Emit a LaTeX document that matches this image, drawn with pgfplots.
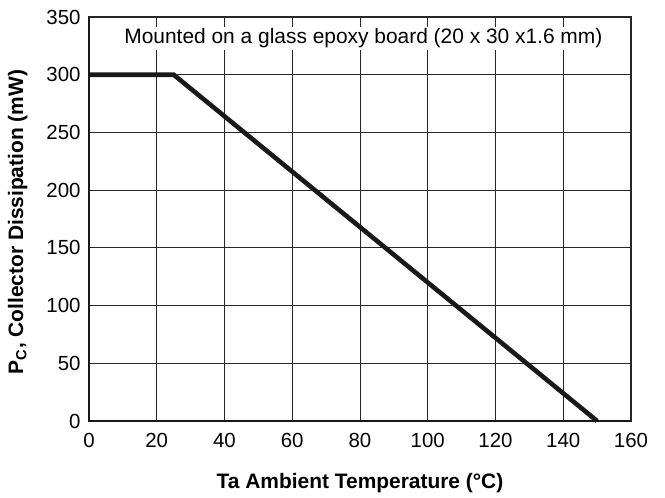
\documentclass[border=0pt]{standalone}
\usepackage{pgfplots}
\pgfplotsset{compat=1.18}
\usepackage{fontspec}
\setmainfont{Liberation Sans}
\begin{document}
\begin{tikzpicture}
\begin{axis}[
  scale only axis,
  width=542bp, height=404bp,
  xmin=0, xmax=160, ymin=0, ymax=350,
  xtick={0,20,...,160}, ytick={0,50,...,350},
  grid=major,
  major grid style={line width=1bp, black!85},
  tick style={draw=none},
  axis line style={line width=1.1bp, black!85},
  /pgf/number format/assume math mode=true,
  ticklabel style={font=\fontsize{20.5}{24}\selectfont},
  xticklabel style={yshift=-9bp},
  yticklabel style={xshift=-5bp},
  xlabel={\textbf{Ta Ambient Temperature (\textdegree C)}},
  ylabel={\textbf{P\textsubscript{C}, Collector Dissipation (mW)}},
  label style={font=\fontsize{21}{24}\selectfont},
  xlabel style={yshift=-19bp},
  ylabel style={yshift=12bp, xshift=-3bp},
  clip=false,
]
\addplot[line width=4.6bp, black!90, line join=miter] coordinates {(0,300) (25,300) (150,0)};
\draw[line width=2.2bp, black!90] (rel axis cs:0,0) -- (rel axis cs:0,1);
\draw[line width=2.2bp, black!90] (rel axis cs:0,0) -- (rel axis cs:1,0);
\node[fill=white, inner xsep=2bp, inner ysep=2bp, font=\fontsize{21}{24}\selectfont] at (axis cs:81,331.5) {Mounted on a glass epoxy board (20 x 30 x1.6 mm)};
\end{axis}
\path[use as bounding box] (-89bp,-77bp) rectangle (576bp,421bp);
\end{tikzpicture}
\end{document}
